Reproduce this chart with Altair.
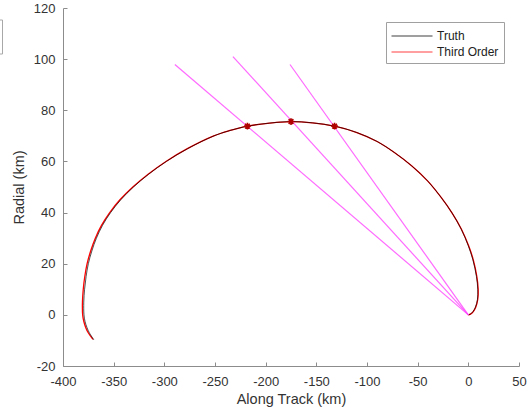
import altair as alt
import pandas as pd

# ---- data ----
truth_x = [-369.5, -374.0, -376.3, -378.3, -379.3, -379.5, -378.7, -377.2, -375.0, -371.5,
           -367.0, -361.0, -353.0, -343.0, -330.5, -315.5, -298.0, -277.0, -251.0, -236.0,
           -218.0, -196.0, -175.0, -154.0, -132.0, -110.0, -90.0, -73.0, -56.0, -40.0,
           -27.0, -16.0, -7.0, 0.0, 4.5, 8.0, 9.3, 9.0, 7.0, 4.5, 2.0, 0.0]
truth_y = [-9.8, -7.0, -5.0, -2.5, 0.0, 5.0, 10.0, 15.0, 20.0, 25.0,
           30.0, 35.0, 40.0, 45.0, 50.0, 55.0, 60.0, 65.0, 70.0, 72.0,
           73.8, 75.0, 75.6, 75.1, 73.8, 71.3, 67.8, 63.5, 58.3, 52.3,
           46.0, 39.8, 33.5, 27.0, 21.5, 15.0, 10.0, 6.0, 3.0, 1.2, 0.3, 0.0]

third_x = [-370.4, -375.1, -377.5, -379.5, -380.6, -380.8, -380.0, -378.5, -376.2, -372.7,
           -368.1, -362.0, -353.9, -343.8, -331.1, -316.0, -298.4, -277.3, -251.2, -236.1,
           -218.0, -196.0, -175.0, -154.0, -132.0, -110.0, -90.0, -73.0, -56.0, -40.0,
           -27.0, -16.0, -6.8, 0.3, 4.9, 8.4, 9.7, 9.3, 7.3, 4.7, 2.1, 0.0]
third_y = [-9.6, -7.0, -5.0, -2.5, 0.0, 5.0, 10.0, 15.0, 20.0, 25.0,
           30.0, 35.0, 40.0, 45.0, 50.0, 55.0, 60.0, 65.0, 70.0, 72.0,
           73.8, 75.0, 75.6, 75.1, 73.8, 71.3, 67.8, 63.5, 58.3, 52.3,
           46.0, 39.8, 33.5, 27.0, 21.5, 15.0, 10.0, 6.0, 3.0, 1.2, 0.3, 0.0]

star_x = [-218.0, -175.0, -132.0]
star_y = [73.8, 75.6, 73.8]

ray_start_x = [0.0, 0.0, 0.0]
ray_start_y = [0.0, 0.0, 0.0]
ray_end_x = [-289.6, -232.3, -176.0]
ray_end_y = [97.9, 101.0, 97.9]

series_names = ["Truth", "Third Order"]
x_ticks = [-400, -350, -300, -250, -200, -150, -100, -50, 0, 50]
y_ticks = [-20, 0, 20, 40, 60, 80, 100, 120]

# ---- tables ----
truth_df = pd.DataFrame({"x": truth_x, "y": truth_y, "series": "Truth",
                         "i": range(len(truth_x))})
third_df = pd.DataFrame({"x": third_x, "y": third_y, "series": "Third Order",
                         "i": range(len(third_x))})
star_df = pd.DataFrame({"x": star_x, "y": star_y})
ray_df = pd.DataFrame({"x": ray_start_x, "y": ray_start_y,
                       "x2": ray_end_x, "y2": ray_end_y})
frag_df = pd.DataFrame({"k": [0]})

W, H = 456, 358
FONT = "Liberation Sans"
LBL = "'' + datum.value"
xs = alt.Scale(domain=[-400, 50], nice=False, zero=False)
ys = alt.Scale(domain=[-20, 120], nice=False, zero=False)
color = alt.Color("series:N",
                  scale=alt.Scale(domain=series_names, range=["#000000", "#ff0000"]),
                  legend=alt.Legend(title=None, orient="none", legendX=323, legendY=14,
                                    symbolType="M-2.5,0L2.5,0", symbolSize=269,
                                    symbolOffset=12, symbolStrokeWidth=1.1,
                                    labelFont=FONT, labelFontSize=12,
                                    labelColor="#222", strokeColor="#a0a0a0",
                                    fillColor="white", padding=5, rowPadding=1,
                                    labelOffset=16))

main_x_axis = alt.Axis(orient="bottom", values=x_ticks, ticks=False, tickSize=0,
                       labelPadding=9, labelFlush=False, labelExpr=LBL, grid=False,
                       domainColor="#8c8c8c",
                       labelFont=FONT, labelFontSize=13, labelColor="#333",
                       title="Along Track (km)", titleFont=FONT, titleFontSize=14.5,
                       titleFontWeight="normal", titleColor="#333", titlePadding=4)
main_y_axis = alt.Axis(orient="left", values=y_ticks, ticks=False, tickSize=0,
                       labelPadding=8, labelFlush=False, labelExpr=LBL, grid=False,
                       domainColor="#8c8c8c",
                       labelFont=FONT, labelFontSize=13, labelColor="#333",
                       title="Radial (km)", titleFont=FONT, titleFontSize=14.5,
                       titleFontWeight="normal", titleColor="#333", titlePadding=7)
tick_x_axis = alt.Axis(orient="top", offset=-H, values=x_ticks, labels=False, domain=False,
                       ticks=True, tickSize=4, tickColor="#8c8c8c", grid=False, title=None)
tick_y_axis = alt.Axis(orient="right", offset=-W, values=y_ticks, labels=False, domain=False,
                       ticks=True, tickSize=4, tickColor="#8c8c8c", grid=False, title=None)

third_line = alt.Chart(third_df).mark_line(strokeWidth=1.3, interpolate="catmull-rom").encode(
    x=alt.X("x:Q", scale=xs, axis=main_x_axis),
    y=alt.Y("y:Q", scale=ys, axis=main_y_axis),
    order="i:Q",
    color=color,
)
truth_line = alt.Chart(truth_df).mark_line(strokeWidth=0.9, interpolate="catmull-rom",
                                           opacity=0.75).encode(
    x=alt.X("x:Q", scale=xs, axis=tick_x_axis),
    y=alt.Y("y:Q", scale=ys, axis=tick_y_axis),
    order="i:Q",
    color=color,
)
rays = alt.Chart(ray_df).mark_rule(color="#ff44ff", strokeWidth=1.2, opacity=0.8).encode(
    x=alt.X("x:Q", scale=xs, axis=None),
    y=alt.Y("y:Q", scale=ys, axis=None),
    x2="x2:Q",
    y2="y2:Q",
)
stars = alt.Chart(star_df).mark_point(
    shape="M-1,0L1,0M0,-1L0,1M-0.7,-0.7L0.7,0.7M-0.7,0.7L0.7,-0.7",
    size=45, filled=False, color="#b00000", strokeWidth=1.6, opacity=1,
).encode(
    x=alt.X("x:Q", scale=xs, axis=None),
    y=alt.Y("y:Q", scale=ys, axis=None),
)
# clipped box fragment at the far top-left of the picture
fragment = alt.Chart(frag_df).mark_rect(filled=False, stroke="#a8a8a8", strokeWidth=1).encode(
    x=alt.value(-75), x2=alt.value(-60.5), y=alt.value(12), y2=alt.value(46)
)

chart = alt.layer(third_line, truth_line, rays, stars, fragment).resolve_axis(
    x="independent", y="independent"
).properties(
    width=W, height=H,
    autosize=alt.AutoSizeParams(type="none"),
    padding={"left": 63, "top": 8, "right": 13, "bottom": 50},
    background="white",
).configure_view(stroke=None)

chart.save("out.html", embed_options={"renderer": "svg", "actions": False})
